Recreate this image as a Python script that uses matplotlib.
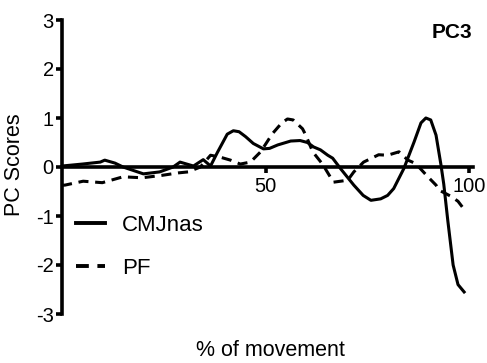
import matplotlib
matplotlib.use("Agg")
import matplotlib.pyplot as plt

plt.rcParams["font.family"] = ["Liberation Sans", "DejaVu Sans"]
plt.rcParams["axes.unicode_minus"] = False

# PC3 scores across the movement cycle
cmj_x = [0, 5, 9.4, 10.5, 13, 15, 20, 24, 27.3, 29, 32.3, 34.7, 36.5, 38.2,
         40.6, 42.1, 43.5, 45.1, 47, 49.5, 51, 53, 56.2, 58.5, 60.3, 61.8,
         63.5, 65.3, 66.5, 68.5, 71.7, 74, 75.9, 78.3, 80, 81.5, 84, 86.5,
         88.2, 89.4, 90.6, 91.9, 93.1, 93.8, 94.8, 96.1, 97.3, 98.8]
cmj_y = [0.02, 0.06, 0.1, 0.14, 0.08, 0.0, -0.14, -0.1, 0.0, 0.1, 0.02, 0.15,
         0.02, 0.3, 0.67, 0.74, 0.72, 0.62, 0.48, 0.37, 0.38, 0.45, 0.53, 0.54,
         0.5, 0.41, 0.35, 0.24, 0.18, -0.04, -0.37, -0.58, -0.68, -0.65, -0.58,
         -0.44, -0.03, 0.51, 0.9, 1.0, 0.96, 0.65, 0.05, -0.35, -1.1, -2.0,
         -2.4, -2.55]

pf_x = [0, 0.7, 5.2, 9.9, 15, 19.7, 24.6, 28.6, 31, 34, 36.5, 38.9, 41.4,
        43.8, 46.3, 48.8, 51.7, 54, 55.4, 56.8, 59.1, 59.9, 61.6, 64, 66.7,
        70.2, 71.7, 74.1, 77.8, 80, 82.8, 85, 86.9, 89.9, 91.9, 92.6, 95.6,
        97.3, 98.4]
pf_y = [-0.37, -0.37, -0.29, -0.32, -0.2, -0.22, -0.17, -0.12, -0.1, 0.0,
        0.24, 0.2, 0.14, 0.06, 0.1, 0.31, 0.68, 0.9, 0.98, 0.96, 0.78, 0.65,
        0.31, 0.06, -0.31, -0.27, -0.1, 0.1, 0.25, 0.24, 0.31, 0.14, 0.07,
        -0.2, -0.37, -0.47, -0.6, -0.7, -0.82]

x_ticks = [50, 100]
y_ticks = [-3, -2, -1, 0, 1, 2, 3]

fig = plt.figure(figsize=(4.87, 3.63), dpi=100)
ax = fig.add_axes([62 / 487, 1 - 314 / 363, 407 / 487, 294 / 363])

ax.plot(cmj_x, cmj_y, color="black", lw=2.2, label="CMJnas")
ax.plot(pf_x, pf_y, color="black", lw=2.2, ls=(0, (3.3, 2.2)), label="PF")

ax.set_xlim(0, 100)
ax.set_ylim(-3, 3)
ax.set_xticks(x_ticks)
ax.set_yticks(y_ticks)
ax.set_yticklabels([str(t) for t in y_ticks])

for side in ("top", "right"):
    ax.spines[side].set_visible(False)
ax.spines["bottom"].set_position(("data", 0))
ax.spines["left"].set_linewidth(2.6)
ax.spines["bottom"].set_linewidth(2.6)
ax.spines["left"].set_bounds(-3, 3)
ax.spines["bottom"].set_bounds(0, 101)
ax.tick_params(axis="both", direction="out", length=4.5, width=2.6,
               labelsize=14.5, colors="black")
ax.tick_params(axis="x", pad=3)
ax.tick_params(axis="y", pad=1.5)

fig.text(472 / 487, 1 - 32 / 363, "PC3", ha="right", va="center",
         fontsize=15, fontweight="bold")

leg = ax.legend(loc="upper left", bbox_to_anchor=(0.035, 0.337), frameon=False,
                fontsize=16, handlelength=1.3, handletextpad=0.75,
                labelspacing=1.0, borderpad=0, borderaxespad=0)
for h in leg.get_lines():
    h.set_linewidth(2.8)

fig.text(270 / 487, 1 - 350 / 363, "% of movement", ha="center", va="center",
         fontsize=15.5)
fig.text(15 / 487, 1 - 165 / 363, "PC Scores", ha="center", va="center",
         rotation=90, fontsize=15.5)

fig.savefig("out.png", dpi=100)
